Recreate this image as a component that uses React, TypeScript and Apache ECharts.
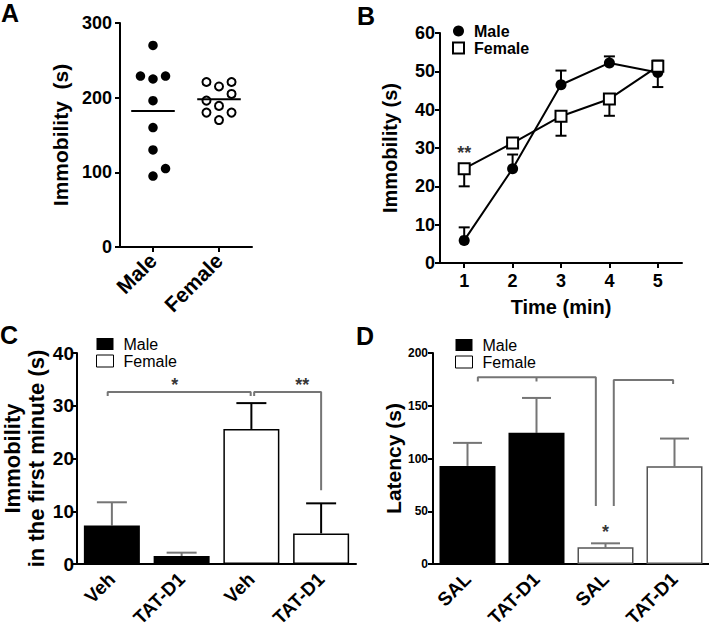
import React, { useEffect, useRef } from "react";
import * as echarts from "echarts";

// ---------- Data ----------
// Panel A
const aCategories = ["Male", "Female"];
const aMaleValues = [270, 229, 225, 229, 196, 160, 130, 95, 105];
const aMaleColumn = [0, -1, 0, 1, 0, 0, 0, 0, 1];
const aFemaleValues = [221, 221, 215, 205, 196, 189, 180, 180, 170];
const aFemaleColumn = [-1, 1, 0, 1, -1, 0, -1, 1, 0];
const aMeans = [182, 198];

// Panel B
const bTimes = ["1", "2", "3", "4", "5"];
const bMale = [5.9, 24.6, 46.5, 52.2, 49.7];
const bMaleErrEnd = [9.3, 28.3, 50.2, 53.9, 45.9];
const bFemale = [24.6, 31.3, 38.3, 42.8, 51.3];
const bFemaleErrEnd = [20.0, 31.3, 33.2, 38.4, 52.8];

// Panel C
const cCategories = ["Veh", "TAT-D1", "Veh", "TAT-D1"];
const cMale = [7.3, 1.5, null, null];
const cFemale = [null, null, 25.6, 5.8];
const cErrEnd = [11.7, 2.15, 30.5, 11.5];

// Panel D
const dCategories = ["SAL", "TAT-D1", "SAL", "TAT-D1"];
const dMale = [93, 124.3, null, null];
const dFemale = [null, null, 15.8, 92.7];
const dErrEnd = [114.8, 157.4, 19.6, 118.9];

// Significance brackets (category-index x, value y)
const cBracket1 = [[-0.06, 31.85], [-0.06, 32.6], [1.99, 32.6], [1.99, 31.85]];
const cBracket2 = [[2.04, 31.85], [2.04, 32.6], [3.0, 32.6], [3.0, 14.0]];
const cStars = [[0.9, 33.85, "*"], [2.73, 33.85, "**"]];
const dBracket1 = [[0.15, 173], [0.15, 176.9], [1.86, 176.9], [1.86, 55]];
const dBracketMid = [[1.0, 176.9], [1.0, 173]];
const dBracket2 = [[2.12, 55], [2.12, 174.4], [2.98, 174.4], [2.98, 170.6]];
const dStars = [[2, 30, "*"]];
const bStars = [[0, 28.8, "**"]];

const FONT = "'Liberation Sans', Arial, Helvetica, sans-serif";
const GRAY = "#757575";

function errRender(capHalf: number, color: string, width: number) {
  return (params: any, api: any) => {
    const x = api.value(0);
    const m = api.value(1);
    const e = api.value(2);
    if (e == null || isNaN(e)) return null;
    const p0 = api.coord([x, m]);
    const p1 = api.coord([x, e]);
    return {
      type: "group",
      children: [
        { type: "line", shape: { x1: p0[0], y1: p0[1], x2: p1[0], y2: p1[1] }, style: { stroke: color, lineWidth: width } },
        { type: "line", shape: { x1: p1[0] - capHalf, y1: p1[1], x2: p1[0] + capHalf, y2: p1[1] }, style: { stroke: color, lineWidth: width } },
      ],
    };
  };
}

const axisLine = { show: true, onZero: false, lineStyle: { color: "#000", width: 2 } };
const tickOut = { show: true, length: 5, lineStyle: { color: "#000", width: 2 } };
const boldLabel = (size: number) => ({ color: "#000", fontWeight: "bold" as const, fontSize: size, fontFamily: FONT });

export default function App() {
  const ref = useRef<HTMLDivElement>(null);
  useEffect(() => {
    if (!ref.current) return;
    const chart = echarts.init(ref.current, null, { renderer: "svg" });

    const aMaleData = aMaleValues.map((v, i) => [1 + aMaleColumn[i] * 0.19, v]);
    const aFemaleData = aFemaleValues.map((v, i) => [2 + aFemaleColumn[i] * 0.19, v]);

    const bracketSeries = (data: number[][], xi: number, yi: number) => ({
      type: "line",
      xAxisIndex: xi,
      yAxisIndex: yi,
      data,
      symbol: "none",
      lineStyle: { color: GRAY, width: 2 },
      silent: true,
      z: 3,
    });
    const starSeries = (data: any[], xi: number, yi: number, size: number) => ({
      type: "scatter",
      xAxisIndex: xi,
      yAxisIndex: yi,
      data: data.map((d) => ({ value: [d[0], d[1]], label: { formatter: d[2] } })),
      symbolSize: 0,
      label: { show: true, position: "inside", color: "#000", fontSize: size, fontWeight: "bold", fontFamily: FONT },
      silent: true,
      z: 5,
    });
    const legendBox = (left: number, top: number, w: number, h: number, size: number, bold: boolean, data: any[]) => ({
      orient: "vertical",
      left,
      top,
      padding: 0,
      itemWidth: w,
      itemHeight: h,
      itemGap: 1,
      selectedMode: false,
      textStyle: {
        color: "#000", fontWeight: bold ? "bold" : "normal", fontSize: size, fontFamily: FONT,
        lineHeight: 16, padding: [0, 0, 0, 5],
      },
      data,
    });

    const option: any = {
      animation: false,
      textStyle: { fontFamily: FONT },
      graphic: [
        { type: "text", left: 1, top: 0, style: { text: "A", font: `bold 25px ${FONT}`, fill: "#000" } },
        { type: "text", left: 357, top: 3, style: { text: "B", font: `bold 25px ${FONT}`, fill: "#000" } },
        { type: "text", left: 0, top: 322, style: { text: "C", font: `bold 25px ${FONT}`, fill: "#000" } },
        { type: "text", left: 356, top: 323, style: { text: "D", font: `bold 25px ${FONT}`, fill: "#000" } },
      ],
      legend: [
        legendBox(452, 23, 11, 11, 16, true, [
          { name: "Male", icon: "circle", itemStyle: { color: "#000", borderWidth: 0 } },
          { name: "Female", icon: "rect", itemStyle: { color: "#fff", borderColor: "#000", borderWidth: 2 } },
        ]),
        legendBox(96, 336, 17, 12, 16, false, [
          { name: "Male", icon: "rect", itemStyle: { color: "#000", borderWidth: 0 } },
          { name: "Female", icon: "rect", itemStyle: { color: "#fff", borderColor: "#000", borderWidth: 1 } },
        ]),
        legendBox(455, 337, 17, 12, 16, false, [
          { name: "Male", icon: "rect", itemStyle: { color: "#000", borderWidth: 0 } },
          { name: "Female", icon: "rect", itemStyle: { color: "#fff", borderColor: "#000", borderWidth: 1 } },
        ]),
      ],
      grid: [
        { left: 120, top: 23, width: 132, height: 224, outerBoundsMode: "none" },
        { left: 440, top: 33, width: 242, height: 230, outerBoundsMode: "none" },
        { left: 77, top: 353, width: 279, height: 211, outerBoundsMode: "none" },
        { left: 433, top: 353, width: 276, height: 211, outerBoundsMode: "none" },
      ],
      xAxis: [
        {
          gridIndex: 0, type: "category", position: "bottom", data: aCategories, boundaryGap: true,
          axisLine, axisTick: { ...tickOut, alignWithLabel: true },
          axisLabel: { ...boldLabel(21), rotate: 45, margin: 10 },
        },
        { gridIndex: 0, type: "value", position: "top", min: 0.5, max: 2.5, show: false },
        {
          gridIndex: 1, type: "category", position: "bottom", data: bTimes, boundaryGap: true,
          axisLine, axisTick: { ...tickOut, alignWithLabel: true },
          axisLabel: { ...boldLabel(18), margin: 9 },
          name: "Time (min)", nameLocation: "middle", nameGap: 34,
          nameTextStyle: { ...boldLabel(20) },
        },
        {
          gridIndex: 2, type: "category", position: "bottom", data: cCategories, boundaryGap: true,
          axisLine, axisTick: { show: false },
          axisLabel: { ...boldLabel(19), rotate: 45, margin: 12, interval: 0, hideOverlap: false },
        },
        { gridIndex: 2, type: "value", position: "top", min: -0.5, max: 3.5, show: false },
        {
          gridIndex: 3, type: "category", position: "bottom", data: dCategories, boundaryGap: true,
          axisLine, axisTick: { show: false },
          axisLabel: { ...boldLabel(19), rotate: 45, margin: 12, interval: 0, hideOverlap: false },
        },
        { gridIndex: 3, type: "value", position: "top", min: -0.5, max: 3.5, show: false },
      ],
      yAxis: [
        {
          gridIndex: 0, type: "value", min: 0, max: 300, interval: 100,
          axisLine, axisTick: tickOut, splitLine: { show: false },
          axisLabel: { ...boldLabel(18), margin: 8 },
          name: "Immobility  (s)", nameLocation: "middle", nameGap: 49, nameRotate: 90,
          nameTextStyle: { ...boldLabel(21) },
        },
        {
          gridIndex: 1, type: "value", min: 0, max: 60, interval: 10,
          axisLine, axisTick: tickOut, splitLine: { show: false },
          axisLabel: { ...boldLabel(18), margin: 5 },
          name: "Immobility (s)", nameLocation: "middle", nameGap: 40, nameRotate: 90,
          nameTextStyle: { ...boldLabel(20) },
        },
        {
          gridIndex: 2, type: "value", min: 0, max: 40, interval: 10,
          axisLine, axisTick: tickOut, splitLine: { show: false },
          axisLabel: { ...boldLabel(19), margin: 3 },
          name: "Immobility\nin the first minute (s)", nameLocation: "middle", nameGap: 28, nameRotate: 90,
          nameTextStyle: { ...boldLabel(22), lineHeight: 24 },
        },
        {
          gridIndex: 3, type: "value", min: 0, max: 200, interval: 50,
          axisLine, axisTick: tickOut, splitLine: { show: false },
          axisLabel: { ...boldLabel(12), margin: 5 },
          name: "Latency (s)", nameLocation: "middle", nameGap: 26, nameRotate: 90,
          nameTextStyle: { ...boldLabel(21) },
        },
      ],
      series: [
        // Panel A
        {
          type: "scatter", name: "A Male", xAxisIndex: 1, yAxisIndex: 0, data: aMaleData,
          symbol: "circle", symbolSize: 9.5, itemStyle: { color: "#000", opacity: 1 }, z: 3,
        },
        {
          type: "scatter", name: "A Female", xAxisIndex: 1, yAxisIndex: 0, data: aFemaleData,
          symbol: "circle", symbolSize: 8, itemStyle: { color: "#fff", borderColor: "#000", borderWidth: 2, opacity: 1 }, z: 3,
        },
        ...aMeans.map((m, i) => ({
          type: "line", name: "A Mean " + aCategories[i], xAxisIndex: 1, yAxisIndex: 0,
          data: [[i + 1 - 0.33, m], [i + 1 + 0.33, m]], symbol: "none",
          lineStyle: { color: "#000", width: 2 }, z: 4,
        })),
        // Panel B
        {
          type: "custom", name: "B Male err", xAxisIndex: 2, yAxisIndex: 1,
          data: bMale.map((v, i) => [i, v, bMaleErrEnd[i]]), encode: { x: 0, y: 1 },
          renderItem: errRender(5.5, "#000", 2), z: 1,
        },
        {
          type: "custom", name: "B Female err", xAxisIndex: 2, yAxisIndex: 1,
          data: bFemale.map((v, i) => [i, v, bFemaleErrEnd[i]]), encode: { x: 0, y: 1 },
          renderItem: errRender(5.5, "#000", 2), z: 1,
        },
        {
          type: "line", name: "Male", xAxisIndex: 2, yAxisIndex: 1, data: bMale,
          symbol: "circle", symbolSize: 11, itemStyle: { color: "#000" },
          lineStyle: { color: "#000", width: 2 }, z: 2,
        },
        {
          type: "line", name: "Female", xAxisIndex: 2, yAxisIndex: 1, data: bFemale,
          symbol: "rect", symbolSize: 11, itemStyle: { color: "#fff", borderColor: "#000", borderWidth: 2 },
          lineStyle: { color: "#000", width: 2 }, z: 2,
        },
        starSeries(bStars, 2, 1, 18),
        // Panel C
        {
          type: "bar", name: "Male", xAxisIndex: 3, yAxisIndex: 2, data: cMale, barWidth: 56, barGap: "-100%",
          itemStyle: { color: "#000" }, z: 2,
        },
        {
          type: "bar", name: "Female", xAxisIndex: 3, yAxisIndex: 2, data: cFemale, barWidth: 56, barGap: "-100%",
          itemStyle: { color: "#fff", borderColor: "#000", borderWidth: 1.5 }, z: 2,
        },
        {
          type: "custom", name: "C err", xAxisIndex: 3, yAxisIndex: 2,
          data: cErrEnd.map((e, i) => [i, (cMale[i] ?? cFemale[i]) as number, e]), encode: { x: 0, y: 1 },
          renderItem: (p: any, api: any) => errRender(15, api.value(0) < 2 ? GRAY : "#000", 2)(p, api), z: 1,
        },
        bracketSeries(cBracket1, 4, 2),
        bracketSeries(cBracket2, 4, 2),
        starSeries(cStars, 4, 2, 18),
        // Panel D
        {
          type: "bar", name: "Male", xAxisIndex: 5, yAxisIndex: 3, data: dMale, barWidth: 56, barGap: "-100%",
          itemStyle: { color: "#000" }, z: 2,
        },
        {
          type: "bar", name: "Female", xAxisIndex: 5, yAxisIndex: 3, data: dFemale, barWidth: 56, barGap: "-100%",
          itemStyle: { color: "#fff", borderColor: "#555", borderWidth: 1.5 }, z: 2,
        },
        {
          type: "custom", name: "D err", xAxisIndex: 5, yAxisIndex: 3,
          data: dErrEnd.map((e, i) => [i, (dMale[i] ?? dFemale[i]) as number, e]), encode: { x: 0, y: 1 },
          renderItem: errRender(14.5, GRAY, 2), z: 1,
        },
        bracketSeries(dBracket1, 6, 3),
        bracketSeries(dBracketMid, 6, 3),
        bracketSeries(dBracket2, 6, 3),
        starSeries(dStars, 6, 3, 18),
      ],
    };
    chart.setOption(option);
    return () => chart.dispose();
  }, []);
  return (
    <div
      ref={ref}
      style={{ position: "fixed", left: 0, top: 0, width: 709, height: 633, background: "#fff" }}
    />
  );
}
